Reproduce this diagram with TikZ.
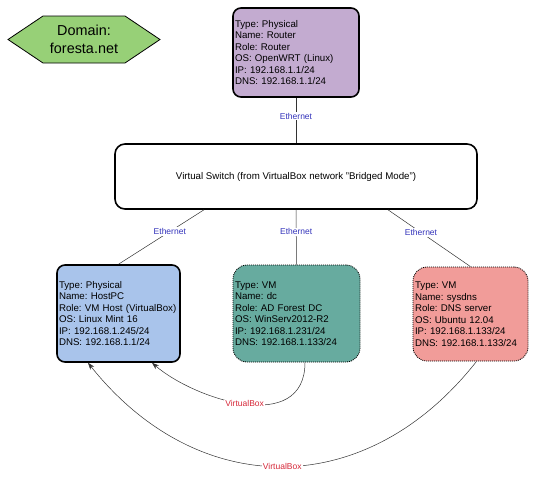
\documentclass[tikz,border=0pt]{standalone}
\usepackage{fontspec}
\setmainfont{Liberation Sans}
\usepackage{xcolor}
\usetikzlibrary{positioning, arrows.meta, calc}
\frenchspacing

\definecolor{routerfill}{HTML}{C3ABD0}
\definecolor{hostfill}{HTML}{A9C4EB}
\definecolor{dcfill}{HTML}{67AB9F}
\definecolor{dnsfill}{HTML}{F19C99}
\definecolor{domainfill}{HTML}{97D077}
\definecolor{ethblue}{RGB}{51,51,187}
\definecolor{vboxred}{RGB}{214,40,57}

\begin{document}
\begin{tikzpicture}[x=1pt, y=-1pt,
  font=\fontsize{9.7}{11.5}\selectfont,
  physbox/.style={rectangle, draw, line width=1.6pt, rounded corners=8pt,
             inner xsep=2pt, align=left},
  vmbox/.style={rectangle, draw, line width=0.8pt, dash pattern=on 1pt off 1pt,
             rounded corners=14pt, inner xsep=2pt, align=left},
  link/.style={draw=black!80, line width=0.5pt},
  eth/.style={fill=white, inner sep=1pt, text=ethblue,
             font=\fontsize{8.5}{10}\selectfont},
  vbox/.style={fill=white, inner sep=1pt, text=vboxred,
             font=\fontsize{8.5}{10}\selectfont},
]
\useasboundingbox (0,0) rectangle (540,488);

% ---- Domain ----
\draw[fill=domainfill, line width=0.8pt]
  (8,39.5) -- (43,16) -- (125,16) -- (160,39.5) -- (125,63) -- (43,63) -- cycle;
\node[align=center, font=\fontsize{14.4}{17.5}\selectfont] (domain) at (84,39.5)
  {Domain:\\foresta.net};

% ---- Router and switch ----
\node[physbox, fill=routerfill, minimum width=126pt, minimum height=89pt,
      text width=122pt] (router) at (296,52.5) {%
  Type: Physical\\
  Name: Router\\
  Role: Router\\
  OS: OpenWRT (Linux)\\
  IP: 192.168.1.1/24\\
  DNS: 192.168.1.1/24
};
\node[physbox, fill=white, rounded corners=10pt, minimum width=362pt,
      minimum height=65pt, align=center] (vswitch) at (296,176.5)
  {Virtual Switch (from VirtualBox network "Bridged Mode")};

% ---- Hosts ----
\node[physbox, fill=hostfill, minimum width=123pt, minimum height=97pt,
      text width=119pt] (hostpc) at (118.5,313.5) {%
  Type: Physical\\
  Name: HostPC\\
  Role: VM Host (VirtualBox)\\
  OS: Linux Mint 16\\
  IP: 192.168.1.245/24\\
  DNS: 192.168.1.1/24
};
\node[vmbox, fill=dcfill, minimum width=127pt, minimum height=97pt,
      text width=123pt] (dc) at (296.5,313.5) {%
  Type: VM\\
  Name: dc\\
  Role: AD Forest DC\\
  OS: WinServ2012-R2\\
  IP: 192.168.1.231/24\\
  DNS: 192.168.1.133/24
};
\node[vmbox, fill=dnsfill, minimum width=115pt, minimum height=94pt,
      text width=111pt] (sysdns) at (470.5,314) {%
  Type: VM\\
  Name: sysdns\\
  Role: DNS server\\
  OS: Ubuntu 12.04\\
  IP: 192.168.1.133/24\\
  DNS: 192.168.1.133/24
};

% ---- Ethernet links ----
\draw[link] (router.south) -- node[eth, pos=0.4] {Ethernet} (vswitch.north);
\draw[link] ($(vswitch.south)+(-92,0)$) -- node[eth, pos=0.4] {Ethernet} (hostpc.north);
\draw[link] (vswitch.south) -- node[eth, pos=0.4] {Ethernet} (dc.north);
\draw[link] ($(vswitch.south)+(92,0)$) -- node[eth, pos=0.4] {Ethernet} (sysdns.north);

% ---- VirtualBox links ----
\draw[link, -{Stealth[length=7pt, width=5pt]}]
  ($(dc.south)+(8.5,0)$) .. controls +(0,73) and +(43,37) ..
  node[vbox] {VirtualBox} ($(hostpc.south)+(33.5,0)$);
\draw[link, -{Stealth[length=7pt, width=5pt]}]
  ($(sysdns.south)+(6,0)$) .. controls +(-110,140) and +(110,138) ..
  node[vbox] {VirtualBox} ($(hostpc.south)+(-30.5,0)$);

\end{tikzpicture}
\end{document}
